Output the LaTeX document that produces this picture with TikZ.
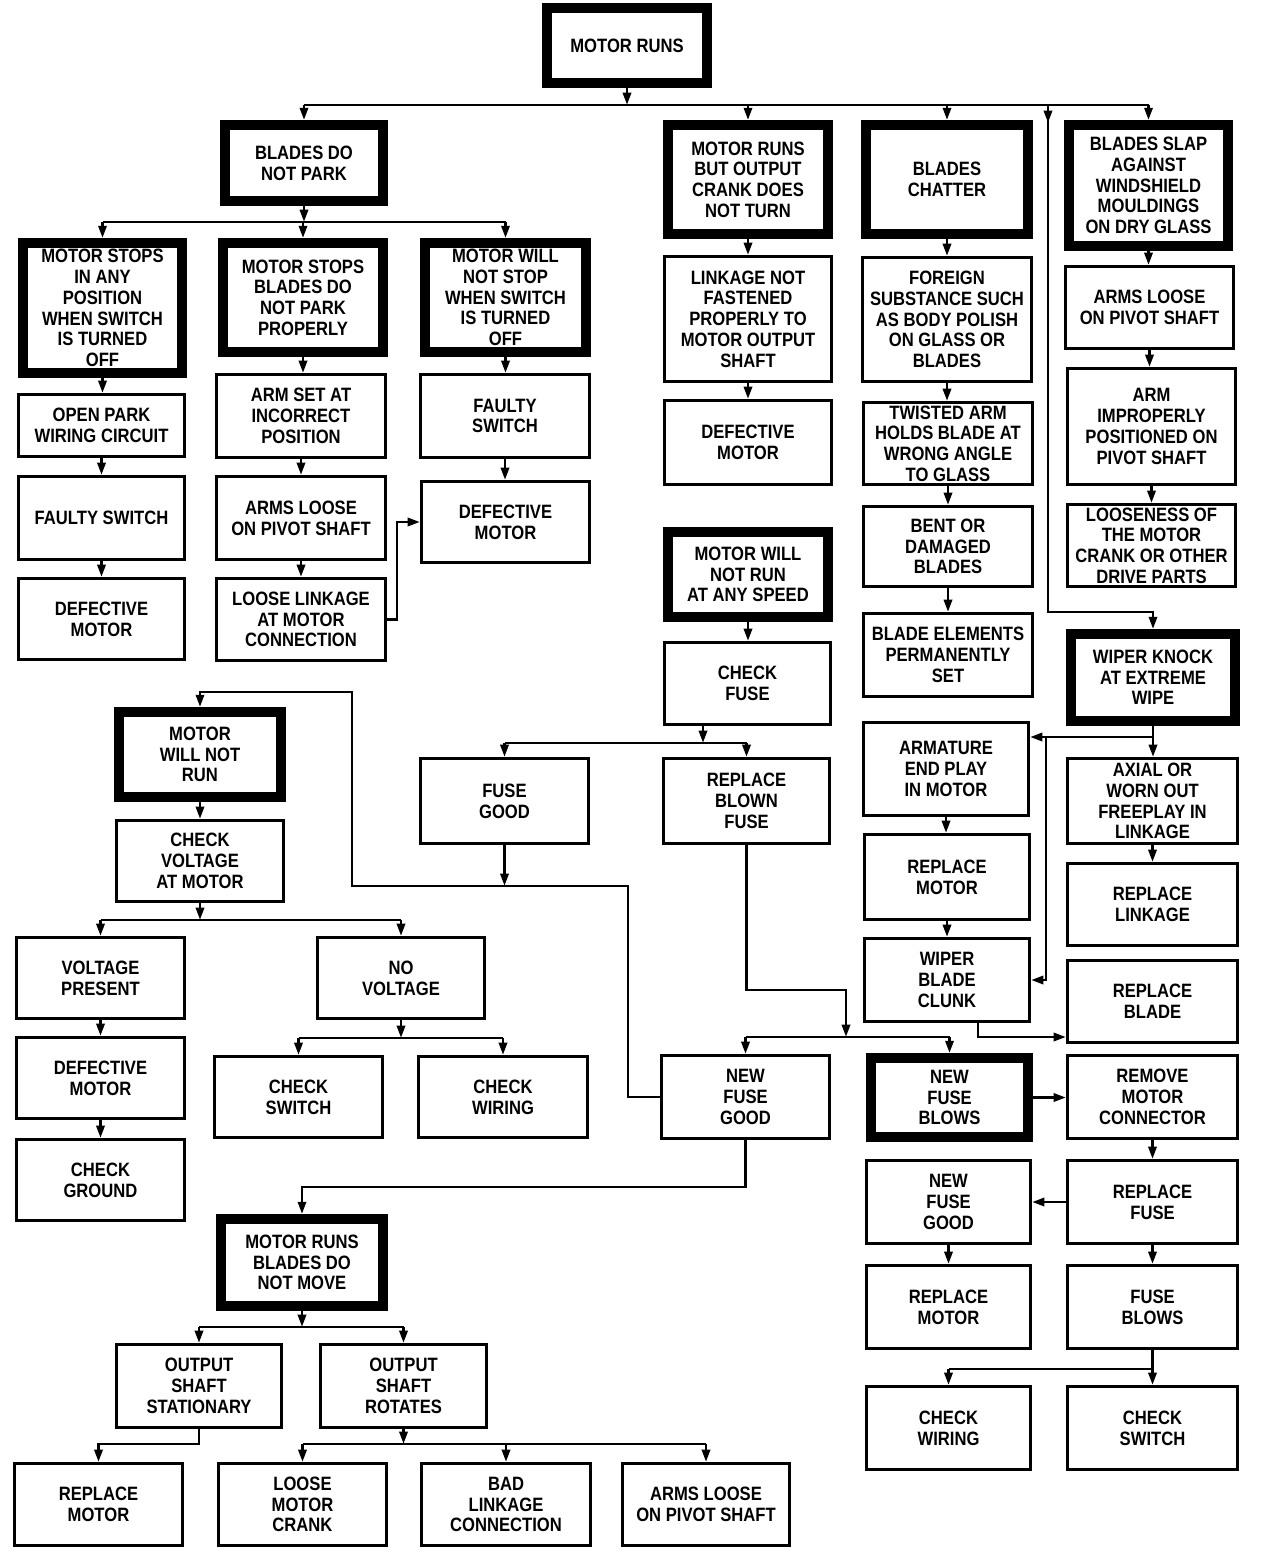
\documentclass[tikz,border=0pt]{standalone}
\usepackage{fontspec}
\newfontfamily\chartfont{Liberation Sans}[FakeStretch=0.86]
\usetikzlibrary{arrows.meta}
\tikzset{
  plain box/.style={draw, line width=1.7pt, align=center, inner sep=1pt,
    font={\chartfont\fontsize{11}{11.8}\selectfont\bfseries}},
  head box/.style={plain box, line width=5.6pt},
  link/.style={line width=1.6pt},
  flow/.style={link, -{Triangle[length=7pt,width=4.6pt]}},
}
\newcommand\chartbox[6]{\node[plain box, minimum width={(#4-#2-3)*0.02cm}, minimum height={(#5-#3-3)*0.02cm}] (#1) at ({(#2+#4)/2},{(#3+#5)/2}) {#6};}
\newcommand\headbox[6]{\node[head box, minimum width={(#4-#2-10)*0.02cm}, minimum height={(#5-#3-10)*0.02cm}] (#1) at ({(#2+#4)/2},{(#3+#5)/2}) {#6};}
\begin{document}
\begin{tikzpicture}[x=0.02cm, y=-0.02cm]
\useasboundingbox (0,0) rectangle (1264,1562);
\headbox{runs}{542}{3}{712}{88}{MOTOR RUNS}
\headbox{park}{220}{120}{388}{206}{BLADES DO\\NOT PARK}
\headbox{crank}{663}{120}{833}{239}{MOTOR RUNS\\BUT OUTPUT\\CRANK DOES\\NOT TURN}
\headbox{chatter}{861}{120}{1033}{239}{BLADES\\CHATTER}
\headbox{slap}{1064}{120}{1233}{251}{BLADES SLAP\\AGAINST\\WINDSHIELD\\MOULDINGS\\ON DRY GLASS}
\headbox{stopany}{18}{238}{187}{378}{MOTOR STOPS\\IN ANY\\POSITION\\WHEN SWITCH\\IS TURNED\\OFF}
\headbox{stoppark}{218}{238}{388}{357}{MOTOR STOPS\\BLADES DO\\NOT PARK\\PROPERLY}
\headbox{nostop}{420}{238}{591}{357}{MOTOR WILL\\NOT STOP\\WHEN SWITCH\\IS TURNED\\OFF}
\chartbox{openpark}{17}{393}{186}{458}{OPEN PARK\\WIRING CIRCUIT}
\chartbox{switchA}{17}{475}{186}{561}{FAULTY SWITCH}
\chartbox{motorA}{17}{577}{186}{661}{DEFECTIVE\\MOTOR}
\chartbox{armset}{215}{373}{387}{459}{ARM SET AT\\INCORRECT\\POSITION}
\chartbox{looseB}{215}{475}{387}{561}{ARMS LOOSE\\ON PIVOT SHAFT}
\chartbox{linkB}{215}{577}{387}{662}{LOOSE LINKAGE\\AT MOTOR\\CONNECTION}
\chartbox{switchC}{419}{373}{591}{459}{FAULTY\\SWITCH}
\chartbox{motorC}{420}{480}{591}{564}{DEFECTIVE\\MOTOR}
\chartbox{fasten}{663}{255}{833}{383}{LINKAGE NOT\\FASTENED\\PROPERLY TO\\MOTOR OUTPUT\\SHAFT}
\chartbox{motorD}{663}{399}{833}{486}{DEFECTIVE\\MOTOR}
\chartbox{foreign}{861}{256}{1033}{383}{FOREIGN\\SUBSTANCE SUCH\\AS BODY POLISH\\ON GLASS OR\\BLADES}
\chartbox{twisted}{862}{401}{1034}{486}{TWISTED ARM\\HOLDS BLADE AT\\WRONG ANGLE\\TO GLASS}
\chartbox{bent}{862}{505}{1034}{588}{BENT OR\\DAMAGED\\BLADES}
\chartbox{elements}{862}{612}{1034}{698}{BLADE ELEMENTS\\PERMANENTLY\\SET}
\chartbox{looseF}{1064}{265}{1235}{350}{ARMS LOOSE\\ON PIVOT SHAFT}
\chartbox{improper}{1066}{367}{1237}{486}{ARM\\IMPROPERLY\\POSITIONED ON\\PIVOT SHAFT}
\chartbox{looseness}{1066}{503}{1237}{588}{LOOSENESS OF\\THE MOTOR\\CRANK OR OTHER\\DRIVE PARTS}
\headbox{knock}{1066}{629}{1240}{726}{WIPER KNOCK\\AT EXTREME\\WIPE}
\headbox{anyspeed}{663}{527}{833}{622}{MOTOR WILL\\NOT RUN\\AT ANY SPEED}
\chartbox{fuse}{663}{641}{832}{726}{CHECK\\FUSE}
\chartbox{fusegood}{419}{757}{590}{845}{FUSE\\GOOD}
\chartbox{blown}{662}{757}{831}{845}{REPLACE\\BLOWN\\FUSE}
\chartbox{armature}{862}{721}{1030}{817}{ARMATURE\\END PLAY\\IN MOTOR}
\chartbox{motorE}{863}{833}{1031}{921}{REPLACE\\MOTOR}
\chartbox{clunk}{863}{937}{1031}{1023}{WIPER\\BLADE\\CLUNK}
\chartbox{axial}{1066}{757}{1239}{845}{AXIAL OR\\WORN OUT\\FREEPLAY IN\\LINKAGE}
\chartbox{linkage}{1066}{862}{1239}{947}{REPLACE\\LINKAGE}
\chartbox{blade}{1066}{959}{1239}{1044}{REPLACE\\BLADE}
\chartbox{newgood}{660}{1054}{831}{1140}{NEW\\FUSE\\GOOD}
\headbox{newblows}{866}{1053}{1033}{1142}{NEW\\FUSE\\BLOWS}
\chartbox{connector}{1066}{1054}{1239}{1140}{REMOVE\\MOTOR\\CONNECTOR}
\chartbox{newgoodB}{865}{1159}{1032}{1245}{NEW\\FUSE\\GOOD}
\chartbox{refuse}{1066}{1159}{1239}{1245}{REPLACE\\FUSE}
\chartbox{motorF}{865}{1264}{1032}{1350}{REPLACE\\MOTOR}
\chartbox{blows}{1066}{1264}{1239}{1350}{FUSE\\BLOWS}
\chartbox{wiringG}{865}{1385}{1032}{1471}{CHECK\\WIRING}
\chartbox{switchG}{1066}{1385}{1239}{1471}{CHECK\\SWITCH}
\headbox{norun}{114}{707}{286}{802}{MOTOR\\WILL NOT\\RUN}
\chartbox{voltage}{115}{819}{285}{903}{CHECK\\VOLTAGE\\AT MOTOR}
\chartbox{present}{15}{936}{186}{1020}{VOLTAGE\\PRESENT}
\chartbox{novolt}{316}{936}{486}{1020}{NO\\VOLTAGE}
\chartbox{motorH}{15}{1036}{186}{1120}{DEFECTIVE\\MOTOR}
\chartbox{ground}{15}{1138}{186}{1222}{CHECK\\GROUND}
\chartbox{switchH}{213}{1055}{384}{1139}{CHECK\\SWITCH}
\chartbox{wiringH}{417}{1055}{589}{1139}{CHECK\\WIRING}
\headbox{nomove}{216}{1214}{388}{1311}{MOTOR RUNS\\BLADES DO\\NOT MOVE}
\chartbox{still}{115}{1343}{283}{1429}{OUTPUT\\SHAFT\\STATIONARY}
\chartbox{rotates}{319}{1343}{488}{1429}{OUTPUT\\SHAFT\\ROTATES}
\chartbox{motorJ}{13}{1462}{184}{1547}{REPLACE\\MOTOR}
\chartbox{crankJ}{217}{1462}{388}{1547}{LOOSE\\MOTOR\\CRANK}
\chartbox{linkJ}{420}{1462}{592}{1547}{BAD\\LINKAGE\\CONNECTION}
\chartbox{looseJ}{621}{1462}{791}{1547}{ARMS LOOSE\\ON PIVOT SHAFT}
\coordinate (top) at (0,105);
\coordinate (side) at (1048,612);
\coordinate (parkbus) at (0,222);
\coordinate (knockbus) at (1046,737);
\coordinate (clunkbus) at (978,1037);
\coordinate (fusebus) at (703,743);
\coordinate (loopbus) at (628,886);
\coordinate (loopcorner) at (352,692);
\coordinate (blowndrop) at (846,990);
\coordinate (newbus) at (0,1037);
\coordinate (movebus) at (0,1187);
\coordinate (blowbus) at (0,1369);
\coordinate (voltbus) at (0,920);
\coordinate (nvbus) at (0,1038);
\coordinate (nomovebus) at (0,1327);
\coordinate (stillbus) at (0,1444);
\draw[flow] (runs.south) -- (runs.south |- top);
\draw[link] (park.north |- top) -- (slap.north |- top);
\foreach \n in {park,crank,chatter,slap} \draw[flow] (\n.north |- top) -- (\n.north);
\draw[flow] (side |- top) -- (side) -| (knock.north);
\draw[flow] (side |- top) -- ++(0,18);
\draw[flow] (park.south) -- (park.south |- parkbus);
\draw[link] (stopany.north |- parkbus) -- (nostop.north |- parkbus);
\foreach \n in {stopany,stoppark,nostop} \draw[flow] (\n.north |- parkbus) -- (\n.north);
\foreach \a/\b in {stopany/openpark, openpark/switchA, switchA/motorA, stoppark/armset, armset/looseB, looseB/linkB, nostop/switchC, switchC/motorC, crank/fasten, fasten/motorD, chatter/foreign, foreign/twisted, twisted/bent, bent/elements, slap/looseF, looseF/improper, improper/looseness, knock/axial, axial/linkage, armature/motorE, motorE/clunk, anyspeed/fuse, connector/refuse, refuse/blows, newgoodB/motorF, norun/voltage, present/motorH, motorH/ground, blows/switchG}
  \draw[flow] (\a.south) -- (\a.south |- \b.north);
\draw[flow] (linkB.east) -- ++(10,0) |- (motorC.west);
\draw[flow] (knockbus -| knock.south) -- (knockbus) -- (knockbus -| armature.east);
\draw[flow] (knockbus) |- (clunk.east);
\draw[flow] (clunkbus |- clunk.south) -- (clunkbus) -- (clunkbus -| blade.west);
\draw[flow] (fusebus |- fuse.south) -- (fusebus);
\draw[link] (fusebus -| fusegood.north) -- (fusebus -| blown.north);
\foreach \n in {fusegood,blown} \draw[flow] (fusebus -| \n.north) -- (\n.north);
\draw[flow] (fusegood.south) -- (fusegood.south |- loopbus);
\draw[flow] (newgood.west) -| (loopbus) -- (loopbus -| loopcorner) -- (loopcorner) -| (norun.north);
\draw[flow] (blown.south) |- (blowndrop) -- (blowndrop |- newbus);
\draw[link] (newbus -| newgood.north) -- (newbus -| newblows.north);
\foreach \n in {newgood,newblows} \draw[flow] (newbus -| \n.north) -- (\n.north);
\draw[flow] (newblows.east) -- (newblows.east -| connector.west);
\draw[flow] (refuse.west) -- (refuse.west -| newgoodB.east);
\draw[link] (blows.south |- blowbus) -- (wiringG.north |- blowbus);
\draw[flow] (wiringG.north |- blowbus) -- (wiringG.north);
\draw[flow] (newgood.south) |- (movebus -| nomove.north) -- (nomove.north);
\draw[flow] (voltage.south) -- (voltage.south |- voltbus);
\draw[link] (voltbus -| present.north) -- (voltbus -| novolt.north);
\foreach \n in {present,novolt} \draw[flow] (voltbus -| \n.north) -- (\n.north);
\draw[flow] (novolt.south) -- (novolt.south |- nvbus);
\draw[link] (nvbus -| switchH.north) -- (nvbus -| wiringH.north);
\foreach \n in {switchH,wiringH} \draw[flow] (nvbus -| \n.north) -- (\n.north);
\draw[flow] (nomove.south) -- (nomove.south |- nomovebus);
\draw[link] (nomovebus -| still.north) -- (nomovebus -| rotates.north);
\foreach \n in {still,rotates} \draw[flow] (nomovebus -| \n.north) -- (\n.north);
\draw[flow] (still.south) |- (stillbus -| motorJ.north) -- (motorJ.north);
\draw[flow] (rotates.south) -- (rotates.south |- stillbus);
\draw[link] (stillbus -| crankJ.north) -- (stillbus -| looseJ.north);
\foreach \n in {crankJ,linkJ,looseJ} \draw[flow] (stillbus -| \n.north) -- (\n.north);
\end{tikzpicture}
\end{document}
